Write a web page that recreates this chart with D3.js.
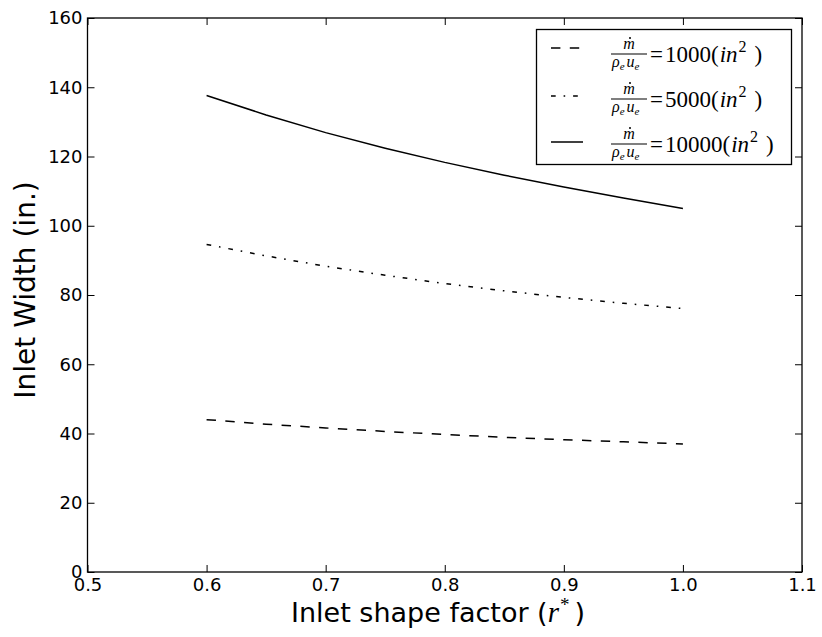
<!DOCTYPE html>
<html><head><meta charset="utf-8">
<script src="https://cdn.jsdelivr.net/npm/d3@7/dist/d3.min.js"></script>
<style>body{margin:0;background:#fff}svg{display:block}</style>
</head><body>
<script>
const rStar = [0.6, 0.65, 0.7, 0.75, 0.8, 0.85, 0.9, 0.95, 1.0];
const w1000 = [44.0, 42.7, 41.6, 40.6, 39.7, 38.9, 38.2, 37.6, 37.0];
const w5000 = [94.6, 91.3, 88.3, 85.7, 83.3, 81.2, 79.3, 77.6, 76.1];
const w10000 = [137.6, 132.0, 126.9, 122.4, 118.3, 114.6, 111.2, 108.0, 105.0];
const xTicks = [0.5, 0.6, 0.7, 0.8, 0.9, 1.0, 1.1];
const yTicks = [0, 20, 40, 60, 80, 100, 120, 140, 160];
const seriesLabels = ["1000", "5000", "10000"];

const W = 822, H = 637;
const m = {l: 87.5, r: 802, t: 18, b: 572};
const svg = d3.select("body").append("svg").attr("width", W).attr("height", H);
const x = d3.scaleLinear().domain([0.5, 1.1]).range([m.l, m.r]);
const y = d3.scaleLinear().domain([0, 160]).range([m.b, m.t]);

const tickFont = "'DejaVu Sans', sans-serif";
const gx = svg.append("g").attr("transform", `translate(0,${m.b})`)
  .call(d3.axisBottom(x).tickValues(xTicks).tickFormat(d3.format(".1f")).tickSizeInner(-7).tickSizeOuter(0).tickPadding(6));
const gxt = svg.append("g").attr("transform", `translate(0,${m.t})`)
  .call(d3.axisTop(x).tickValues(xTicks).tickFormat("").tickSizeInner(-7).tickSizeOuter(0));
const gy = svg.append("g").attr("transform", `translate(${m.l},0)`)
  .call(d3.axisLeft(y).tickValues(yTicks).tickSizeInner(-7).tickSizeOuter(0).tickPadding(5));
const gyr = svg.append("g").attr("transform", `translate(${m.r},0)`)
  .call(d3.axisRight(y).tickValues(yTicks).tickFormat("").tickSizeInner(-7).tickSizeOuter(0));
[gx, gxt, gy, gyr].forEach(g => {
  g.select(".domain").remove();
  g.selectAll("line").attr("stroke", "#000").attr("stroke-width", 1);
  g.selectAll("text").attr("font-family", tickFont).attr("font-size", 18).attr("fill", "#000");
});
svg.append("rect").attr("x", m.l).attr("y", m.t).attr("width", m.r - m.l).attr("height", m.b - m.t)
  .attr("fill", "none").attr("stroke", "#000").attr("stroke-width", 1.3);

const line = d3.line().x(d => x(d[0])).y(d => y(d[1]));
const series = [
  {vals: w1000, dash: "9.4,9.4"},
  {vals: w5000, dash: "4.7,7.9,1.6,7.9"},
  {vals: w10000, dash: null}
];
series.forEach(s => {
  svg.append("path").datum(rStar.map((r, i) => [r, s.vals[i]])).attr("d", line)
    .attr("fill", "none").attr("stroke", "#000").attr("stroke-width", 1.5)
    .attr("stroke-dasharray", s.dash);
});

const serif = "'Liberation Serif', 'DejaVu Serif', serif";
svg.append("text").attr("x", 291).attr("y", 622)
  .attr("font-family", tickFont).attr("font-size", 27)
  .call(t => {
    t.append("tspan").text("Inlet shape factor (");
    t.append("tspan").attr("font-family", serif).attr("font-style", "italic").attr("font-size", 29).text("r");
    t.append("tspan").attr("font-family", serif).attr("font-size", 19).attr("dy", -11).attr("dx", 1).text("*");
    t.append("tspan").attr("dy", 11).attr("dx", 5).text(")");
  });
svg.append("text").attr("transform", "translate(35,290) rotate(-90)").attr("text-anchor", "middle")
  .attr("font-family", tickFont).attr("font-size", 28).text("Inlet Width (in.)");

// legend
const lg = svg.append("g");
lg.append("rect").attr("x", 536.5).attr("y", 29.5).attr("width", 255).attr("height", 135)
  .attr("fill", "#fff").attr("stroke", "#000").attr("stroke-width", 1.3);
const rowsLine = [48, 96, 142];
const rowsBar = [54, 99, 144];
series.forEach((s, i) => {
  lg.append("line").attr("x1", 551).attr("x2", 583).attr("y1", rowsLine[i]).attr("y2", rowsLine[i])
    .attr("stroke", "#000").attr("stroke-width", 1.5).attr("stroke-dasharray", s.dash);
  const by = rowsBar[i];
  lg.append("line").attr("x1", 611).attr("x2", 647).attr("y1", by).attr("y2", by).attr("stroke", "#000").attr("stroke-width", 1.2);
  lg.append("text").attr("x", 629).attr("y", by - 5).attr("text-anchor", "middle")
    .attr("font-family", serif).attr("font-style", "italic").attr("font-size", 16).text("m");
  lg.append("circle").attr("cx", 630).attr("cy", by - 16).attr("r", 1).attr("fill", "#000");
  lg.append("text").attr("x", 612).attr("y", by + 13)
    .attr("font-family", serif).attr("font-style", "italic").attr("font-size", 16)
    .call(t => {
      t.append("tspan").text("ρ");
      t.append("tspan").attr("font-size", 11).attr("dy", 3).text("e");
      t.append("tspan").attr("dy", -3).attr("dx", 2).text("u");
      t.append("tspan").attr("font-size", 11).attr("dy", 3).text("e");
    });
  lg.append("text").attr("x", 650).attr("y", by + 7.5)
    .attr("font-family", serif).attr("font-size", 23)
    .call(t => {
      t.append("tspan").text("=");
      t.append("tspan").attr("dx", 2).text(seriesLabels[i] + "(");
      t.append("tspan").attr("font-style", "italic").attr("dx", 1).text("in");
      t.append("tspan").attr("font-size", 16).attr("dy", -10).attr("dx", 1).text("2");
      t.append("tspan").attr("dy", 10).attr("dx", 8).text(")");
    });
});
</script>
</body></html>
